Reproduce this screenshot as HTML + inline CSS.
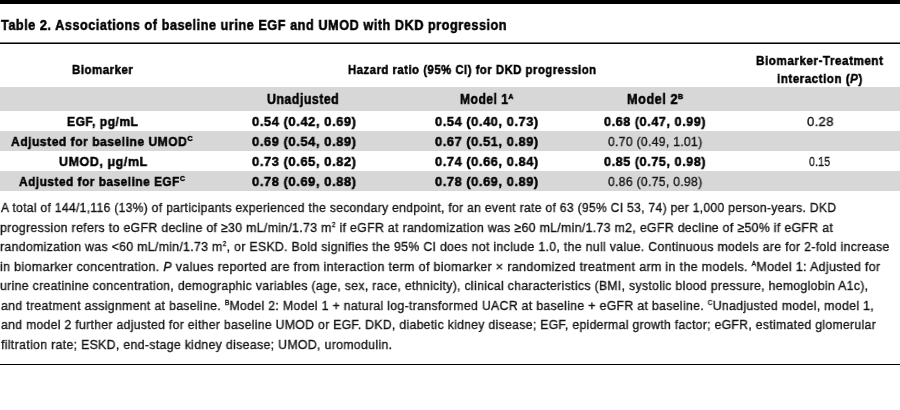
<!DOCTYPE html>
<html><head><meta charset="utf-8">
<style>
html,body{margin:0;padding:0;background:#fff;}
body{width:900px;height:410px;position:relative;overflow:hidden;font-family:"Liberation Sans",sans-serif;color:#000;}
.t{position:absolute;white-space:nowrap;line-height:0;transform-origin:0 0;will-change:transform;}
.b{font-weight:bold;}
.bar{position:absolute;left:0;width:900px;}
sup{font-size:8px;line-height:0;vertical-align:0;position:relative;top:-5px;margin-left:0;}
.f sup{font-size:7px;top:-5px;margin-left:0;}
.f{color:#151515;-webkit-text-stroke:0.35px currentColor;letter-spacing:0.35px;}
.b{-webkit-text-stroke:0.5px currentColor;letter-spacing:0.6px;}
</style></head><body>
<div class="bar" style="top:0;height:4px;background:#000"></div>
<div class="bar" style="top:42px;height:1px;background:#777"></div>
<div class="bar" style="top:43px;height:1px;background:#000"></div>
<div class="bar" style="top:87px;height:24px;background:#d7d7d7"></div>
<div class="bar" style="top:131px;height:20px;background:#d7d7d7"></div>
<div class="bar" style="top:171px;height:20px;background:#d7d7d7"></div>
<div id="title" class="t b" style="left:1.039px;top:24.709px;font-size:15px;transform:scaleX(0.84863);">Table 2. Associations of baseline urine EGF and UMOD with DKD progression</div>
<div id="bio" class="t b" style="left:71.872px;top:69.504px;font-size:13.6px;transform:scaleX(0.84402);">Biomarker</div>
<div id="haz" class="t b" style="left:348.263px;top:70.004px;font-size:13.6px;transform:scaleX(0.83420);">Hazard ratio (95% CI) for DKD progression</div>
<div id="bt1" class="t b" style="left:756.447px;top:60.607px;font-size:13.6px;transform:scaleX(0.86045);">Biomarker-Treatment</div>
<div id="bt2" class="t b" style="left:777.145px;top:78.607px;font-size:13.6px;transform:scaleX(0.85452);">interaction (<i>P</i>)</div>
<div id="unadj" class="t b" style="left:267.040px;top:99.212px;font-size:14px;transform:scaleX(0.87889);">Unadjusted</div>
<div id="m1" class="t b" style="left:459.519px;top:99.212px;font-size:14px;transform:scaleX(0.86011);">Model 1<sup>A</sup></div>
<div id="m2" class="t b" style="left:627.102px;top:99.212px;font-size:14px;transform:scaleX(0.90584);">Model 2<sup>B</sup></div>
<div id="lab0" class="t b" style="left:67.450px;top:122.004px;font-size:13.6px;transform:scaleX(0.88474);">EGF, pg/mL</div>
<div id="lab1" class="t b" style="left:11.440px;top:142.004px;font-size:13.6px;transform:scaleX(0.88551);">Adjusted for baseline UMOD<sup>C</sup></div>
<div id="lab2" class="t b" style="left:58.582px;top:162.004px;font-size:13.6px;transform:scaleX(0.91966);">UMOD, μg/mL</div>
<div id="lab3" class="t b" style="left:19.451px;top:182.004px;font-size:13.6px;transform:scaleX(0.86985);">Adjusted for baseline EGF<sup>C</sup></div>
<div id="c00" class="t b" style="left:251.969px;top:122.004px;font-size:13.6px;transform:scaleX(0.95036);">0.54 (0.42, 0.69)</div>
<div id="c01" class="t b" style="left:434.557px;top:122.004px;font-size:13.6px;transform:scaleX(0.94325);">0.54 (0.40, 0.73)</div>
<div id="c02" class="t b" style="left:603.769px;top:122.004px;font-size:13.6px;transform:scaleX(0.92838);">0.68 (0.47, 0.99)</div>
<div id="c03" class="t f" style="left:807.181px;top:122.010px;font-size:13.4px;transform:scaleX(0.97409);">0.28</div>
<div id="c10" class="t b" style="left:251.969px;top:142.004px;font-size:13.6px;transform:scaleX(0.95036);">0.69 (0.54, 0.89)</div>
<div id="c11" class="t b" style="left:434.557px;top:142.004px;font-size:13.6px;transform:scaleX(0.94325);">0.67 (0.51, 0.89)</div>
<div id="c12" class="t f" style="left:607.837px;top:142.010px;font-size:13.4px;transform:scaleX(0.90626);">0.70 (0.49, 1.01)</div>
<div id="c20" class="t b" style="left:251.969px;top:162.004px;font-size:13.6px;transform:scaleX(0.95036);">0.73 (0.65, 0.82)</div>
<div id="c21" class="t b" style="left:434.557px;top:162.004px;font-size:13.6px;transform:scaleX(0.94325);">0.74 (0.66, 0.84)</div>
<div id="c22" class="t b" style="left:603.769px;top:162.004px;font-size:13.6px;transform:scaleX(0.92838);">0.85 (0.75, 0.98)</div>
<div id="c23" class="t f" style="left:809.308px;top:162.010px;font-size:13.4px;transform:scaleX(0.77717);">0.15</div>
<div id="c30" class="t b" style="left:251.969px;top:182.004px;font-size:13.6px;transform:scaleX(0.95036);">0.78 (0.69, 0.88)</div>
<div id="c31" class="t b" style="left:434.557px;top:182.004px;font-size:13.6px;transform:scaleX(0.94325);">0.78 (0.69, 0.89)</div>
<div id="c32" class="t f" style="left:607.837px;top:182.010px;font-size:13.4px;transform:scaleX(0.90626);">0.86 (0.75, 0.98)</div>
<div id="fn0" class="t f" style="left:1.016px;top:208.000px;font-size:13.25px;transform:scaleX(0.91158);">A total of 144/1,116 (13%) of participants experienced the secondary endpoint, for an event rate of 63 (95% CI 53, 74) per 1,000 person-years. DKD</div>
<div id="fn1" class="t f" style="left:0.052px;top:227.500px;font-size:13.25px;transform:scaleX(0.92879);">progression refers to eGFR decline of ≥30 mL/min/1.73 m<sup>2</sup> if eGFR at randomization was ≥60 mL/min/1.73 m2, eGFR decline of ≥50% if eGFR at</div>
<div id="fn2" class="t f" style="left:0.079px;top:247.000px;font-size:13.25px;transform:scaleX(0.92698);">randomization was &lt;60 mL/min/1.73 m<sup>2</sup>, or ESKD. Bold signifies the 95% CI does not include 1.0, the null value. Continuous models are for 2-fold increase</div>
<div id="fn3" class="t f" style="left:0.056px;top:266.500px;font-size:13.25px;transform:scaleX(0.94245);">in biomarker concentration. <i>P</i> values reported are from interaction term of biomarker × randomized treatment arm in the models. <sup>A</sup>Model 1: Adjusted for</div>
<div id="fn4" class="t f" style="left:0.063px;top:286.000px;font-size:13.25px;transform:scaleX(0.92430);">urine creatinine concentration, demographic variables (age, sex, race, ethnicity), clinical characteristics (BMI, systolic blood pressure, hemoglobin A1c),</div>
<div id="fn5" class="t f" style="left:1.018px;top:305.500px;font-size:13.25px;transform:scaleX(0.92623);">and treatment assignment at baseline. <sup>B</sup>Model 2: Model 1 + natural log-transformed UACR at baseline + eGFR at baseline. <sup>C</sup>Unadjusted model, model 1,</div>
<div id="fn6" class="t f" style="left:1.022px;top:325.000px;font-size:13.25px;transform:scaleX(0.92012);">and model 2 further adjusted for either baseline UMOD or EGF. DKD, diabetic kidney disease; EGF, epidermal growth factor; eGFR, estimated glomerular</div>
<div id="fn7" class="t f" style="left:1.013px;top:344.500px;font-size:13.25px;transform:scaleX(0.92841);">filtration rate; ESKD, end-stage kidney disease; UMOD, uromodulin.</div>
<div class="bar" style="top:364px;height:1px;background:#000"></div>
</body></html>
